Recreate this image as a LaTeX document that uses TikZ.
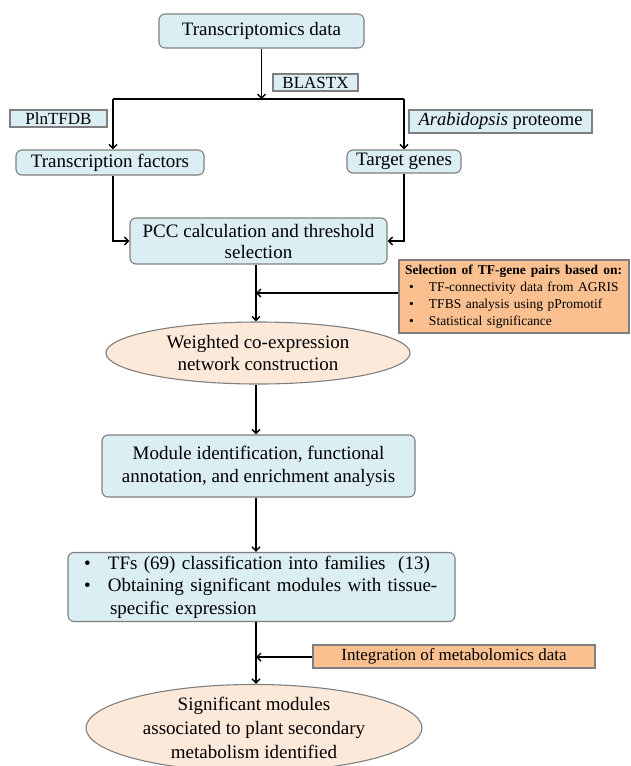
\documentclass[tikz,border=0pt]{standalone}
\usepackage{fontspec}
\setmainfont{Liberation Serif}
\usetikzlibrary{arrows.meta,shapes.geometric}
\definecolor{boxblue}{HTML}{DAEEF3}
\definecolor{peach}{HTML}{FDE9D9}
\definecolor{orangefill}{HTML}{FAC090}
\definecolor{bordergray}{HTML}{7F7F7F}
\tikzset{
  flow/.style={draw=bordergray, line width=1.1pt, fill=boxblue, rounded corners=6pt, inner sep=0pt, align=center, font=\fontsize{19}{22}\selectfont},
  tag/.style={draw=bordergray, line width=1.1pt, fill=boxblue, inner sep=0pt, font=\fontsize{17}{20}\selectfont},
  oval/.style={ellipse, draw=bordergray, line width=1.1pt, fill=peach, inner sep=0pt, align=center, font=\fontsize{19}{22}\selectfont},
  note/.style={draw=bordergray, line width=1.1pt, fill=orangefill, inner sep=0pt},
  conn/.style={line width=1.6pt, -{Straight Barb[length=4pt,width=8pt,line width=1.4pt]}},
  plainline/.style={line width=1.6pt},
}
\begin{document}
\begin{tikzpicture}[x=1pt,y=-1pt]
\useasboundingbox (0,0) rectangle (630,766);

% main boxes
\node[flow, minimum width=205pt, minimum height=34pt] (trans) at (261.5,31) {Transcriptomics data};
\node[tag, minimum width=85pt, minimum height=17pt] (blastx) at (315.5,82.5) {BLASTX};
\node[tag, minimum width=97pt, minimum height=17pt] (plntfdb) at (58.5,118.5) {PlnTFDB};
\node[tag, minimum width=183pt, minimum height=23pt, font=\fontsize{18.5}{20}\selectfont] (arab) at (500.5,121.5) {\textit{Arabidopsis} proteome};
\node[flow, minimum width=188pt, minimum height=25pt] (tf) at (110,162.5) {Transcription factors};
\node[flow, minimum width=114pt, minimum height=23pt] (target) at (404,161.5) {Target genes};
\node[flow, minimum width=257pt, minimum height=46pt, font=\fontsize{19}{21}\selectfont] (pcc) at (258.5,241) {PCC calculation and threshold\\selection};
\node[note, minimum width=230pt, minimum height=73pt, text width=218pt, align=left,
      font=\fontsize{13.5}{17}\selectfont] (sel) at (514,296.5)
  {\hbox to 217pt{\bfseries Selection\hfil\ of\hfil\ TF-gene\hfil\ pairs\hfil\ based\hfil\ on:}\\
   \mbox{\makebox[24pt][l]{\hspace{4pt}\textbullet}TF-connectivity data from AGRIS}\\
   \mbox{\makebox[24pt][l]{\hspace{4pt}\textbullet}TFBS analysis using pPromotif}\\
   \mbox{\makebox[24pt][l]{\hspace{4pt}\textbullet}Statistical significance}};
\node[oval, minimum width=304pt, minimum height=62pt] (ell1) at (258,353) {Weighted co-expression\\network construction};
\node[flow, minimum width=313pt, minimum height=62pt, font=\fontsize{19}{23}\selectfont] (module) at (258.5,466) {Module identification, functional\\annotation, and enrichment analysis};
\node[flow, minimum width=387pt, minimum height=69pt, text width=355pt, align=left, font=\fontsize{19}{22.5}\selectfont] (tfs) at (261.5,587)
  {\makebox[24pt][l]{\textbullet}TFs (69) classification into families\ \ (13)\\
   \makebox[24pt][l]{\textbullet}Obtaining significant modules with tissue-\\
   \hspace*{26pt}specific expression};
\node[note, minimum width=282pt, minimum height=23pt, font=\fontsize{17}{20}\selectfont] (integ) at (454,656.5) {Integration of metabolomics data};
\node[oval, minimum width=336pt, minimum height=84pt, font=\fontsize{19}{24}\selectfont] (final) at (254,728)
  {Significant modules\\associated to plant secondary\\metabolism identified};

% helper coordinates
\coordinate (split) at (261.5,99);
\coordinate (lsplit) at (113,99);
\coordinate (rsplit) at (404,99);
\coordinate (sideA) at (256,293);
\coordinate (sideB) at (256,657);

% connectors
\draw[conn] (trans.south) -- (split);
\draw[plainline] (lsplit) -- (rsplit);
\draw[conn] (lsplit) -- (tf.north -| lsplit);
\draw[conn] (rsplit) -- (target.north -| rsplit);
\draw[conn] (tf.south -| lsplit) |- (pcc.west);
\draw[conn] (target.south -| rsplit) |- (pcc.east);
\draw[conn] (pcc.south -| sideA) -- (ell1.north -| sideA);
\draw[conn] (sel.west |- sideA) -- (sideA);
\draw[conn] (ell1.south -| sideA) -- (module.north -| sideA);
\draw[conn] (module.south -| sideA) -- (tfs.north -| sideA);
\draw[conn] (tfs.south -| sideB) -- (final.north -| sideB);
\draw[conn] (integ.west |- sideB) -- (sideB);
\end{tikzpicture}
\end{document}
